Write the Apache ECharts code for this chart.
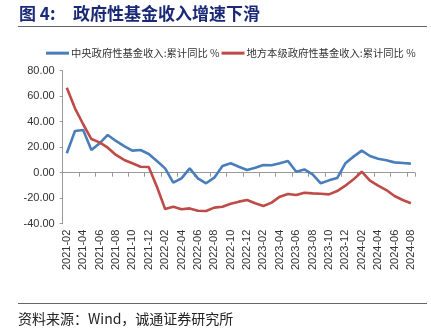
<!DOCTYPE html>
<html><head><meta charset="utf-8">
<script src="https://cdn.jsdelivr.net/npm/echarts@6/dist/echarts.min.js"></script>
<style>html,body{margin:0;padding:0;background:#fff}#c{width:431px;height:334px}</style>
</head><body><div id="c"></div>
<script>
const categories = (function(){
  const out=[];
  for(let y=2021;y<=2024;y++){for(let m=1;m<=12;m++){
    if(y===2021&&m<2)continue; if(y===2024&&m>8)continue;
    out.push(y+'-'+(m<10?'0'+m:m));}}
  return out;})();
const centralValues = [15.2,32.7,33.5,17.8,23.0,29.6,24.9,20.9,17.3,17.8,14.7,9.2,3.4,-7.8,-4.4,3.4,-4.4,-8.3,-3.9,5.3,7.4,4.7,2.1,3.9,6.0,5.8,7.4,9.2,0.8,2.6,-1.3,-8.3,-6.0,-4.2,7.4,12.6,17.3,13.1,11.0,9.7,8.1,7.6,7.1];
const localValues = [66.7,50.5,38.0,26.4,23.8,19.6,13.9,10.0,7.4,4.7,4.5,-11.0,-28.5,-26.7,-28.7,-28.0,-29.8,-30.0,-27.4,-26.7,-24.3,-22.7,-21.4,-24.0,-26.1,-23.5,-18.8,-16.7,-17.5,-15.7,-16.2,-16.5,-17.0,-14.4,-10.2,-5.2,0.8,-6.3,-10.2,-13.6,-18.3,-21.4,-24.0];
const seriesNames = ['中央政府性基金收入:累计同比 %','地方本级政府性基金收入:累计同比 %'];
const yTicks = [-40,-20,0,20,40,60,80];

const chart = echarts.init(document.getElementById('c'));
chart.setOption({
  animation:false,
  backgroundColor:'#fff',
  textStyle:{fontFamily:'Liberation Sans, Arial, sans-serif'},
  graphic:[
    {type:'text',left:19,top:5,style:{text:'图 4:',font:'bold 17px "Noto Sans CJK SC"',fill:'#1a2a78'}},
    {type:'text',left:73,top:5,style:{text:'政府性基金收入增速下滑',font:'bold 17px "Noto Sans CJK SC"',fill:'#1a2a78'}},
    {type:'line',shape:{x1:18,y1:26.5,x2:427,y2:26.5},style:{stroke:'#666',lineWidth:1}},
    {type:'line',shape:{x1:18,y1:303.5,x2:427,y2:303.5},style:{stroke:'#666',lineWidth:1}},
    {type:'text',left:18,top:312,style:{text:'资料来源：Wind，诚通证券研究所',font:'14px "Noto Sans CJK SC"',fill:'#222'}}
  ],
  legend:{left:41,top:43,itemWidth:23,itemHeight:3,itemGap:2,icon:'rect',
    textStyle:{fontSize:10.3,color:'#333',fontFamily:'"Noto Sans CJK SC"',padding:[0,0,0,-3]},
    data:seriesNames},
  grid:{left:62.7,right:16,top:70.7,bottom:110.3,containLabel:false},
  xAxis:[
    {type:'category',data:categories,boundaryGap:true,position:'bottom',
     axisLine:{show:false,onZero:false},axisTick:{show:false},
     axisLabel:{interval:1,rotate:90,fontSize:11,color:'#333',margin:6}},
    {type:'category',data:categories,boundaryGap:true,position:'bottom',
     axisLine:{show:true,onZero:true,lineStyle:{color:'#999',width:1}},
     axisTick:{show:true,interval:1,length:4,inside:false,lineStyle:{color:'#999'}},
     axisLabel:{show:false}}
  ],
  yAxis:{type:'value',min:-40,max:80,interval:20,
    axisLine:{show:true,lineStyle:{color:'#999'}},
    axisTick:{show:true,length:3,lineStyle:{color:'#999'}},
    splitLine:{show:false},
    axisLabel:{fontSize:11,color:'#333',margin:8,formatter:v=>v.toFixed(2)}},
  series:[
    {name:seriesNames[0],type:'line',xAxisIndex:0,data:centralValues,symbol:'none',
     lineStyle:{width:2.6,color:'#4a7ebb'},itemStyle:{color:'#4a7ebb'}},
    {name:seriesNames[1],type:'line',xAxisIndex:0,data:localValues,symbol:'none',
     lineStyle:{width:2.6,color:'#be4b48'},itemStyle:{color:'#be4b48'}}
  ]
});
</script></body></html>
